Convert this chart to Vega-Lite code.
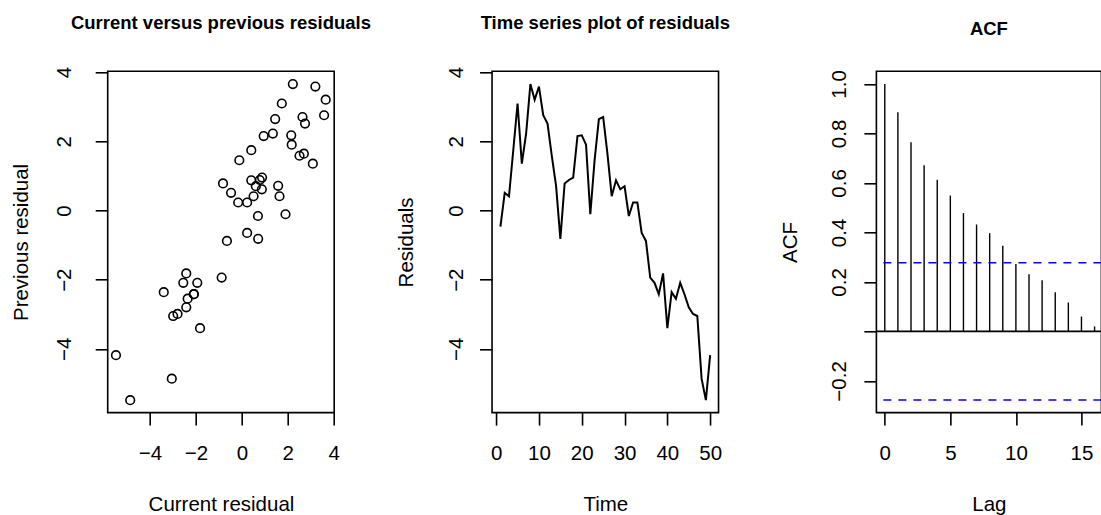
{
  "$schema": "https://vega.github.io/schema/vega-lite/v6.json",
  "background": "white",
  "padding": {"left": 10.7, "top": 12.3, "right": 0, "bottom": 0},
  "autosize": {"type": "pad"},
  "spacing": 157.35,
  "bounds": "flush",
  "config": {
    "font": "Liberation Sans",
    "view": {"stroke": "black", "strokeWidth": 1.6},
    "axis": {
      "domain": false, "grid": false,
      "tickColor": "black", "tickWidth": 1.6, "tickSize": 12.5,
      "labelColor": "black", "titleColor": "black",
      "labelFont": "Liberation Sans", "titleFont": "Liberation Sans",
      "labelFontSize": 20.5, "titleFontSize": 20.5, "titleFontWeight": "normal",
      "labelFlush": false, "labelOverlap": false, "labelBound": false
    },
    "axisLeft": {"labelAngle": -90, "labelAlign": "center", "labelBaseline": "alphabetic", "titleAngle": -90, "titleAlign": "center", "titleBaseline": "alphabetic", "titleX": -80, "titleY": 170.65},
    "axisBottom": {"labelBaseline": "alphabetic", "labelPadding": 34.5, "titleBaseline": "alphabetic", "titleAlign": "center", "titleY": 97.7},
    "title": {"font": "Liberation Sans", "fontSize": 18.5, "fontWeight": "bold", "color": "black", "baseline": "alphabetic", "frame": "group", "anchor": "middle"}
  },
  "datasets": {
    "series": [
      {"t": 1, "e": -0.47}, {"t": 2, "e": 0.51}, {"t": 3, "e": 0.41}, {"t": 4, "e": 1.74}, {"t": 5, "e": 3.09},
      {"t": 6, "e": 1.35}, {"t": 7, "e": 2.22}, {"t": 8, "e": 3.65}, {"t": 9, "e": 3.20}, {"t": 10, "e": 3.58},
      {"t": 11, "e": 2.75}, {"t": 12, "e": 2.51}, {"t": 13, "e": 1.58}, {"t": 14, "e": 0.71}, {"t": 15, "e": -0.82},
      {"t": 16, "e": 0.78}, {"t": 17, "e": 0.88}, {"t": 18, "e": 0.95}, {"t": 19, "e": 2.15}, {"t": 20, "e": 2.17},
      {"t": 21, "e": 1.90}, {"t": 22, "e": -0.11}, {"t": 23, "e": 1.45}, {"t": 24, "e": 2.64}, {"t": 25, "e": 2.70},
      {"t": 26, "e": 1.64}, {"t": 27, "e": 0.41}, {"t": 28, "e": 0.87}, {"t": 29, "e": 0.61}, {"t": 30, "e": 0.70},
      {"t": 31, "e": -0.16}, {"t": 32, "e": 0.23}, {"t": 33, "e": 0.23}, {"t": 34, "e": -0.65}, {"t": 35, "e": -0.88},
      {"t": 36, "e": -1.94}, {"t": 37, "e": -2.09}, {"t": 38, "e": -2.42}, {"t": 39, "e": -1.82}, {"t": 40, "e": -3.40},
      {"t": 41, "e": -2.36}, {"t": 42, "e": -2.55}, {"t": 43, "e": -2.09}, {"t": 44, "e": -2.42}, {"t": 45, "e": -2.80},
      {"t": 46, "e": -2.99}, {"t": 47, "e": -3.05}, {"t": 48, "e": -4.86}, {"t": 49, "e": -5.48}, {"t": 50, "e": -4.18}
    ],
    "scatter": [
      {"current": -0.47, "previous": 0.51}, {"current": 0.51, "previous": 0.41}, {"current": 0.41, "previous": 1.74},
      {"current": 1.74, "previous": 3.09}, {"current": 3.09, "previous": 1.35}, {"current": 1.35, "previous": 2.22},
      {"current": 2.22, "previous": 3.65}, {"current": 3.65, "previous": 3.20}, {"current": 3.20, "previous": 3.58},
      {"current": 3.58, "previous": 2.75}, {"current": 2.75, "previous": 2.51}, {"current": 2.51, "previous": 1.58},
      {"current": 1.58, "previous": 0.71}, {"current": 0.71, "previous": -0.82}, {"current": -0.82, "previous": 0.78},
      {"current": 0.78, "previous": 0.88}, {"current": 0.88, "previous": 0.95}, {"current": 0.95, "previous": 2.15},
      {"current": 2.15, "previous": 2.17}, {"current": 2.17, "previous": 1.90}, {"current": 1.90, "previous": -0.11},
      {"current": -0.11, "previous": 1.45}, {"current": 1.45, "previous": 2.64}, {"current": 2.64, "previous": 2.70},
      {"current": 2.70, "previous": 1.64}, {"current": 1.64, "previous": 0.41}, {"current": 0.41, "previous": 0.87},
      {"current": 0.87, "previous": 0.61}, {"current": 0.61, "previous": 0.70}, {"current": 0.70, "previous": -0.16},
      {"current": -0.16, "previous": 0.23}, {"current": 0.23, "previous": 0.23}, {"current": 0.23, "previous": -0.65},
      {"current": -0.65, "previous": -0.88}, {"current": -0.88, "previous": -1.94}, {"current": -1.94, "previous": -2.09},
      {"current": -2.09, "previous": -2.42}, {"current": -2.42, "previous": -1.82}, {"current": -1.82, "previous": -3.40},
      {"current": -3.40, "previous": -2.36}, {"current": -2.36, "previous": -2.55}, {"current": -2.55, "previous": -2.09},
      {"current": -2.09, "previous": -2.42}, {"current": -2.42, "previous": -2.80}, {"current": -2.80, "previous": -2.99},
      {"current": -2.99, "previous": -3.05}, {"current": -3.05, "previous": -4.86}, {"current": -4.86, "previous": -5.48},
      {"current": -5.48, "previous": -4.18}
    ],
    "acf": [
      {"lag": 0, "acf": 1.0}, {"lag": 1, "acf": 0.886}, {"lag": 2, "acf": 0.764}, {"lag": 3, "acf": 0.671},
      {"lag": 4, "acf": 0.613}, {"lag": 5, "acf": 0.549}, {"lag": 6, "acf": 0.478}, {"lag": 7, "acf": 0.432},
      {"lag": 8, "acf": 0.397}, {"lag": 9, "acf": 0.346}, {"lag": 10, "acf": 0.272}, {"lag": 11, "acf": 0.231},
      {"lag": 12, "acf": 0.207}, {"lag": 13, "acf": 0.158}, {"lag": 14, "acf": 0.117}, {"lag": 15, "acf": 0.060},
      {"lag": 16, "acf": 0.020}
    ],
    "clim": [{"bound": 0.2772}, {"bound": -0.2772}]
  },
  "hconcat": [
    {
      "width": 226.5, "height": 341.3,
      "title": {"text": "Current versus previous residuals", "offset": 34.2},
      "data": {"name": "scatter"},
      "mark": {"type": "point", "shape": "circle", "filled": false, "color": "black", "size": 74, "strokeWidth": 1.6, "opacity": 1},
      "encoding": {
        "x": {"field": "current", "type": "quantitative", "title": "Current residual",
              "scale": {"domain": [-5.84, 4.02], "nice": false, "zero": false},
              "axis": {"values": [-4, -2, 0, 2, 4], "format": "d", "titleX": 113.25}},
        "y": {"field": "previous", "type": "quantitative", "title": "Previous residual",
              "scale": {"domain": [-5.84, 4.02], "nice": false, "zero": false},
              "axis": {"values": [-4, -2, 0, 2, 4], "format": "d", "labelPadding": 25}}
      }
    },
    {
      "width": 226.5, "height": 341.3,
      "title": {"text": "Time series plot of residuals", "offset": 34.2},
      "data": {"name": "series"},
      "mark": {"type": "line", "color": "black", "strokeWidth": 2},
      "encoding": {
        "x": {"field": "t", "type": "quantitative", "title": "Time",
              "scale": {"domain": [-0.96, 51.96], "nice": false, "zero": false},
              "axis": {"values": [0, 10, 20, 30, 40, 50], "format": "d", "titleX": 113.25}},
        "y": {"field": "e", "type": "quantitative", "title": "Residuals",
              "scale": {"domain": [-5.84, 4.02], "nice": false, "zero": false},
              "axis": {"values": [-4, -2, 0, 2, 4], "format": "d", "labelPadding": 17.5}}
      }
    },
    {
      "width": 225, "height": 341.3,
      "title": {"text": "ACF", "offset": 31.5},
      "layer": [
        {
          "data": {"name": "acf"},
          "mark": {"type": "rule", "color": "black", "strokeWidth": 1.4},
          "encoding": {
            "x": {"field": "lag", "type": "quantitative", "title": "Lag",
                  "scale": {"domain": [-0.64, 16.52], "nice": false, "zero": false},
                  "axis": {"values": [0, 5, 10, 15], "format": "d", "titleX": 112.5}},
            "y": {"field": "acf", "type": "quantitative", "title": "ACF",
                  "scale": {"domain": [-0.328, 1.051], "nice": false, "zero": false},
                  "axis": {"values": [-0.2, 0, 0.2, 0.4, 0.6, 0.8, 1.0], "labelExpr": "datum.value == 0 ? '' : format(datum.value, '.1f')", "labelPadding": 18.5}},
            "y2": {"datum": 0}
          }
        },
        {
          "data": {"values": [{"zero": 0}]},
          "mark": {"type": "rule", "color": "black", "strokeWidth": 1.6},
          "encoding": {"y": {"field": "zero", "type": "quantitative"}}
        },
        {
          "data": {"name": "clim"},
          "mark": {"type": "rule", "color": "#0000FF", "strokeWidth": 1.6, "strokeDash": [8, 7]},
          "encoding": {"y": {"field": "bound", "type": "quantitative"}}
        }
      ]
    }
  ]
}
